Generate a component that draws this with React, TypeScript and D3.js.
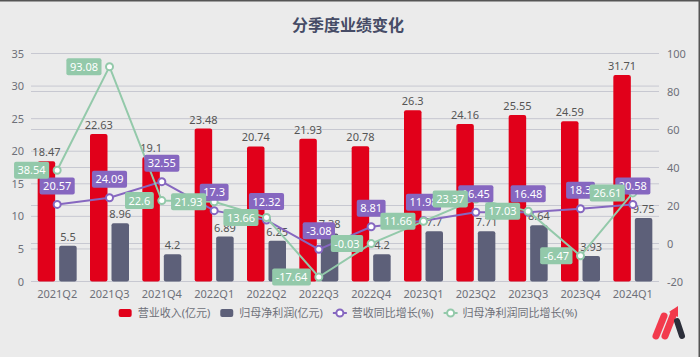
import React from "react";
import * as d3 from "d3";

const categories = ["2021Q2","2021Q3","2021Q4","2022Q1","2022Q2","2022Q3","2022Q4","2023Q1","2023Q2","2023Q3","2023Q4","2024Q1"];
const revenue = [18.47,22.63,19.1,23.48,20.74,21.93,20.78,26.3,24.16,25.55,24.59,31.71];
const profit = [5.5,8.96,4.2,6.89,6.25,7.38,4.2,7.7,7.71,8.64,3.93,9.75];
const revenueYoY = [20.57,24.09,32.55,17.3,12.32,-3.08,8.81,11.98,16.45,16.48,18.3,20.58];
const profitYoY = [38.54,93.08,22.6,21.93,13.66,-17.64,-0.03,11.66,23.37,17.03,-6.47,26.61];
const leftTicks = [0,5,10,15,20,25,30,35];
const rightTicks = [-20,0,20,40,60,80,100];
const seriesNames = ["营业收入(亿元)","归母净利润(亿元)","营收同比增长(%)","归母净利润同比增长(%)"];
const title = "分季度业绩变化";

const W = 700, H = 357;
const FONT = "'Noto Sans', 'Noto Sans CJK SC', sans-serif";
const RED = "#e1001a", GRAY = "#5d6079", PURPLE = "#8667c0", GREEN = "#93c9aa";
const BG = "#ebebeb", GRID = "#c7c8d1", AXIS_TXT = "#6e7079", LBL = "#555";

let ctx: CanvasRenderingContext2D | null = null;
function measure(t: string, size = 11) {
  if (!ctx) ctx = document.createElement("canvas").getContext("2d");
  if (!ctx) return t.length * size * 0.6;
  ctx.font = `${size}px ${FONT}`;
  return ctx.measureText(t).width;
}

export default function App() {
  const x = d3.scaleBand().domain(categories).range([31, 659]);
  const yL = d3.scaleLinear().domain([0, 35]).range([281.5, 53.5]);
  const yR = d3.scaleLinear().domain([-20, 100]).range([281.5, 53.5]);
  const cx = (i: number) => (x(categories[i]) as number) + x.bandwidth() / 2;
  const barW = 17.5;

  const line = d3.line<number>().x((_, i) => cx(i)).y((d) => yR(d));

  // legend layout
  const iconW = 14, iconGap = 5, itemGap = 10;
  const widths = seriesNames.map((n) => iconW + iconGap + measure(n));
  const total = widths.reduce((a, b) => a + b, 0) + itemGap * (widths.length - 1);
  let lx = 348 - total / 2;
  const legendX = widths.map((w) => { const s = lx; lx += w + itemGap; return s; });
  const ly = 313;
  const colors = [RED, GRAY, PURPLE, GREEN];

  const boxH = 17, padX = 3.5;

  return (
    <div style={{ position: "absolute", left: 0, top: 0, width: W, height: H }}>
      <svg width={W} height={H} style={{ display: "block", fontFamily: FONT }}>
        <rect x={0} y={0} width={W} height={H} fill={BG} />
        <line x1={0} x2={W} y1={0.75} y2={0.75} stroke="#555" strokeWidth={1.5} />
        <line x1={W - 0.75} x2={W - 0.75} y1={0} y2={H} stroke="#555" strokeWidth={1.5} />
        <text x={348} y={31} textAnchor="middle" fontSize={16} fontWeight="bold" fill="#464c66">{title}</text>

        {/* grid */}
        {leftTicks.map((t) => (
          <line key={"gl" + t} x1={31} x2={659} y1={yL(t)} y2={yL(t)} stroke={GRID} strokeWidth={1} />
        ))}
        {rightTicks.map((t) => (
          <line key={"gr" + t} x1={31} x2={659} y1={yR(t)} y2={yR(t)} stroke={GRID} strokeWidth={1} />
        ))}
        {leftTicks.map((t) => (
          <text key={"tl" + t} x={24} y={yL(t) + 4} textAnchor="end" fontSize={11} fill={AXIS_TXT}>{t}</text>
        ))}
        {rightTicks.map((t) => (
          <text key={"tr" + t} x={667} y={yR(t) + 4} textAnchor="start" fontSize={11} fill={AXIS_TXT}>{t}</text>
        ))}
        {categories.map((c, i) => (
          <text key={"x" + c} x={cx(i)} y={298} textAnchor="middle" fontSize={11} fill={AXIS_TXT}>{c}</text>
        ))}

        {/* bars */}
        {revenue.map((v, i) => (
          <rect key={"r" + i} x={cx(i) - 19.5} y={yL(v)} width={barW} height={yL(0) - yL(v)} rx={2} fill={RED} />
        ))}
        {profit.map((v, i) => (
          <rect key={"p" + i} x={cx(i) + 2} y={yL(v)} width={barW} height={yL(0) - yL(v)} rx={2} fill={GRAY} />
        ))}
        {revenue.map((v, i) => (
          <text key={"rl" + i} x={cx(i) - 19.5 + barW / 2} y={yL(v) - 5} textAnchor="middle" fontSize={11} fill={LBL}>{v}</text>
        ))}
        {profit.map((v, i) => (
          <text key={"pl" + i} x={cx(i) + 2 + barW / 2} y={yL(v) - 5} textAnchor="middle" fontSize={11} fill={LBL}>{v}</text>
        ))}

        {/* lines */}
        <path d={line(revenueYoY) || ""} fill="none" stroke={PURPLE} strokeWidth={2} />
        {revenueYoY.map((v, i) => (
          <circle key={"pc" + i} cx={cx(i)} cy={yR(v)} r={3.5} fill="#fff" stroke={PURPLE} strokeWidth={2} />
        ))}
        <path d={line(profitYoY) || ""} fill="none" stroke={GREEN} strokeWidth={2} />
        {profitYoY.map((v, i) => (
          <circle key={"gc" + i} cx={cx(i)} cy={yR(v)} r={3.5} fill="#fff" stroke={GREEN} strokeWidth={2} />
        ))}

        {/* line labels */}
        {revenueYoY.map((v, i) => {
          const w = measure(String(v)) + padX * 2;
          const bx = cx(i) - w / 2, by = yR(v) - 10 - boxH;
          return (
            <g key={"pll" + i}>
              <rect x={bx} y={by} width={w} height={boxH} rx={2} fill={PURPLE} />
              <text x={cx(i)} y={by + 12.5} textAnchor="middle" fontSize={11} fill="#fff">{v}</text>
            </g>
          );
        })}
        {profitYoY.map((v, i) => {
          const w = measure(String(v)) + padX * 2;
          const bx = cx(i) - 8 - w, by = yR(v) - boxH / 2;
          return (
            <g key={"gll" + i}>
              <rect x={bx} y={by} width={w} height={boxH} rx={2} fill={GREEN} />
              <text x={bx + w / 2} y={by + 12.5} textAnchor="middle" fontSize={11} fill="#fff">{v}</text>
            </g>
          );
        })}

        {/* legend */}
        {seriesNames.map((n, k) => {
          const sx = legendX[k];
          return (
            <g key={"lg" + k}>
              {k < 2 ? (
                <rect x={sx} y={ly - 4} width={iconW - 1} height={8} rx={2} fill={colors[k]} />
              ) : (
                <g>
                  <line x1={sx} x2={sx + iconW} y1={ly} y2={ly} stroke={colors[k]} strokeWidth={2} />
                  <circle cx={sx + iconW / 2} cy={ly} r={3.5} fill="#fff" stroke={colors[k]} strokeWidth={2} />
                </g>
              )}
              <text x={sx + iconW + iconGap} y={ly + 4} fontSize={11} fill={AXIS_TXT}>{n}</text>
            </g>
          );
        })}

        {/* logo */}
        <g strokeLinecap="round">
          <line x1={656} y1={336} x2={664} y2={316} stroke="#f23a4c" strokeWidth={7} />
          <line x1={665} y1={336} x2={674} y2={313} stroke="#f23a4c" strokeWidth={7} />
          <path d="M669,312 L678,306 L678,317 Z" fill="#f23a4c" />
          <line x1={677} y1={321} x2={682} y2={336} stroke="#2c2e3a" strokeWidth={6} />
        </g>
      </svg>
    </div>
  );
}
